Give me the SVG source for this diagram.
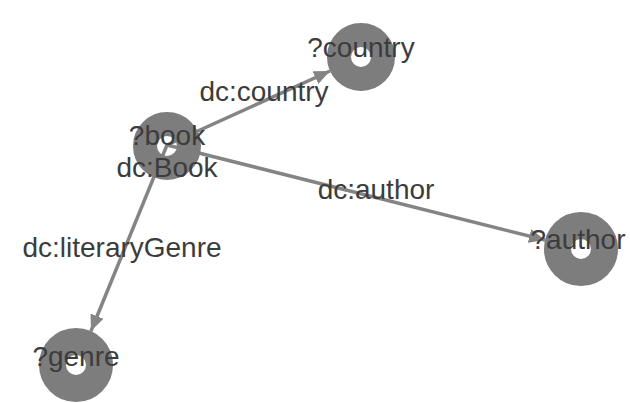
<svg xmlns="http://www.w3.org/2000/svg" width="630" height="403" viewBox="0 0 630 403">
<style>
.edge{stroke:#848484;stroke-width:3.5;fill:none}
.ring{fill:none;stroke:#7d7d7d;stroke-width:24}
.ring.big{stroke-width:27}
text{font-family:"Liberation Sans",Arial,sans-serif;font-size:28px;fill:#3c3c3c;text-anchor:middle}
</style>
<defs>
<marker id="arr" markerUnits="userSpaceOnUse" markerWidth="18" markerHeight="14" refX="16" refY="7" orient="auto">
<path d="M0,0 L16,7 L0,14 Z" fill="#848484"/>
</marker>
</defs>
<rect width="630" height="403" fill="#ffffff"/>
<g id="connectors">
<line class="edge" x1="167" y1="145" x2="330" y2="71" marker-end="url(#arr)"/>
<line class="edge" x1="167" y1="145" x2="545" y2="240" marker-end="url(#arr)"/>
<line class="edge" x1="167" y1="145" x2="91" y2="331" marker-end="url(#arr)"/>
</g>
<g id="node-book"><circle class="ring" cx="167" cy="146" r="22"/></g>
<g id="node-country"><circle class="ring" cx="361" cy="57" r="22"/></g>
<g id="node-author"><circle class="ring big" cx="581" cy="249" r="23.5"/></g>
<g id="node-genre"><circle class="ring big" cx="76" cy="365" r="23.5"/></g>
<g id="labels">
<text x="167" y="145">?book</text>
<text x="167" y="177">dc:Book</text>
<text x="361" y="57">?country</text>
<text x="264" y="101">dc:country</text>
<text x="376" y="199">dc:author</text>
<text x="578" y="249">?author</text>
<text x="122" y="257">dc:literaryGenre</text>
<text x="76" y="366">?genre</text>
</g>
</svg>
